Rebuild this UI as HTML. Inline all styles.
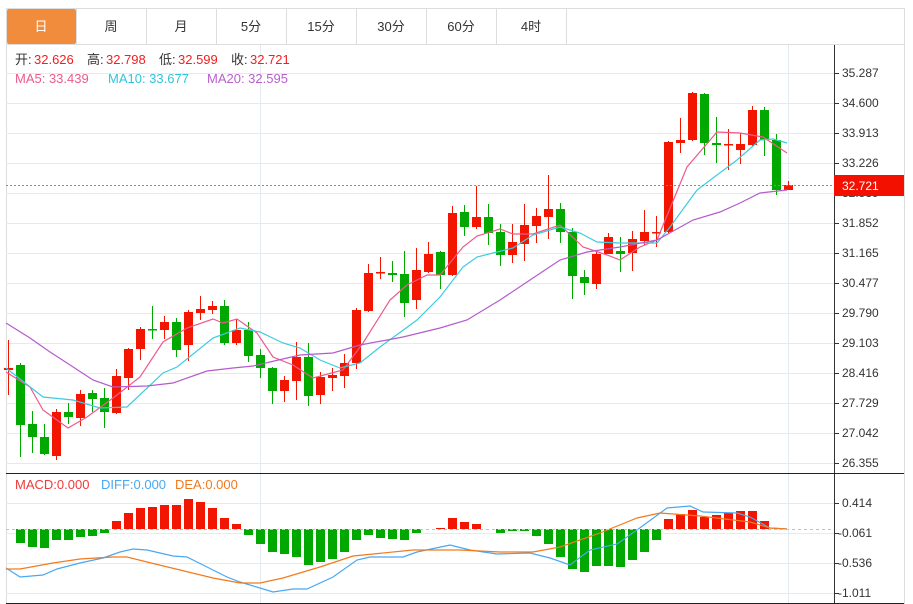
<!DOCTYPE html>
<html><head><meta charset="utf-8"><style>
body{margin:0;background:#fff;width:913px;height:604px;overflow:hidden;font-family:"Liberation Sans","Noto Sans CJK SC",sans-serif}
svg{position:absolute;left:0;top:0}
</style></head><body>
<svg id="s" width="913" height="604" xmlns="http://www.w3.org/2000/svg" font-family="Liberation Sans, Noto Sans CJK SC, sans-serif">
<rect x="6.5" y="8.5" width="898" height="595" fill="none" stroke="#ddd"/>
<line x1="6" y1="44.5" x2="904" y2="44.5" stroke="#ddd"/>
<rect x="7" y="9" width="69" height="35" fill="#f28c3d" rx="2"/>
<g stroke="#ddd"><line x1="76.5" y1="9" x2="76.5" y2="44"/><line x1="146.5" y1="9" x2="146.5" y2="44"/><line x1="216.5" y1="9" x2="216.5" y2="44"/><line x1="286.5" y1="9" x2="286.5" y2="44"/><line x1="356.5" y1="9" x2="356.5" y2="44"/><line x1="426.5" y1="9" x2="426.5" y2="44"/><line x1="496.5" y1="9" x2="496.5" y2="44"/><line x1="566.5" y1="9" x2="566.5" y2="44"/></g>
<g font-size="13" text-anchor="middle" fill="#333"><text x="41" y="31" fill="#fff">日</text><text x="111" y="31">周</text><text x="181" y="31">月</text><text x="251" y="31">5分</text><text x="321" y="31">15分</text><text x="391" y="31">30分</text><text x="461" y="31">60分</text><text x="531" y="31">4时</text></g>
<g id="grid" stroke="#e3ebf0"></g>
<line x1="260.5" y1="45" x2="260.5" y2="603" stroke="#e3ebf0"/>
<line x1="788.5" y1="45" x2="788.5" y2="603" stroke="#e3ebf0"/>
<line x1="834.5" y1="45" x2="834.5" y2="603" stroke="#333"/>
<line x1="6" y1="473.5" x2="904" y2="473.5" stroke="#222"/>
<line x1="6" y1="603.5" x2="904" y2="603.5" stroke="#222"/>
<g id="ticks" stroke="#333"></g>
<g font-size="12" fill="#333">
<text x="842" y="77">35.287</text><text x="842" y="107">34.600</text><text x="842" y="137">33.913</text><text x="842" y="167">33.226</text><text x="842" y="197">32.539</text><text x="842" y="227">31.852</text><text x="842" y="257">31.165</text><text x="842" y="287">30.477</text><text x="842" y="317">29.790</text><text x="842" y="347">29.103</text><text x="842" y="377">28.416</text><text x="842" y="407">27.729</text><text x="842" y="437">27.042</text><text x="842" y="467">26.355</text>
<text x="842" y="507">0.414</text><text x="838" y="537">-0.061</text><text x="838" y="567">-0.536</text><text x="838" y="597">-1.011</text>
</g>
<g id="c"></g>
<line x1="6" y1="185.5" x2="834" y2="185.5" stroke="#f06060" stroke-dasharray="2,2"/>
<line x1="6" y1="529.5" x2="834" y2="529.5" stroke="#9cd0e0" stroke-dasharray="3,3"/>
<rect x="834" y="175" width="70" height="21" fill="#f31000"/>
<text x="842" y="190" font-size="12" fill="#fff">32.721</text>
<g font-size="13">
<text x="15" y="64" fill="#333">开:</text><text x="34" y="64" fill="#f02020">32.626</text>
<text x="87" y="64" fill="#333">高:</text><text x="106" y="64" fill="#f02020">32.798</text>
<text x="159" y="64" fill="#333">低:</text><text x="178" y="64" fill="#f02020">32.599</text>
<text x="231" y="64" fill="#333">收:</text><text x="250" y="64" fill="#f02020">32.721</text>
<text x="15" y="83" fill="#ee5a8c">MA5: 33.439</text><text x="108" y="83" fill="#2ec4dc">MA10: 33.677</text><text x="207" y="83" fill="#b85fce">MA20: 32.595</text>
<text x="15" y="489" fill="#f03a3a">MACD:0.000</text><text x="101" y="489" fill="#4aa8f0">DIFF:0.000</text><text x="175" y="489" fill="#f07a20">DEA:0.000</text>
</g>
</svg>
<script>
var NS="http://www.w3.org/2000/svg",g=document.getElementById('c');
function el(t,a,p){var e=document.createElementNS(NS,t);for(var k in a)e.setAttribute(k,a[k]);(p||g).appendChild(e);return e;}
var ys=[73,103,133,163,193,223,253,283,313,343,373,403,433,463,503,533,563,593];
ys.forEach(function(y){el('line',{x1:6,x2:834,y1:y+.5,y2:y+.5},document.getElementById('grid'));el('line',{x1:834,x2:839,y1:y+.5,y2:y+.5},document.getElementById('ticks'));});
var C=[[368,370,340,395,1],[365,425,363,457,0],[424,437,411,453,0],[437,454,424,455,0],[412,456,409,460,1],[412,417,403,424,0],[394,418,390,426,1],[393,399,390,412,0],[398,412,388,428,0],[376,413,369,414,1],[349,378,348,390,1],[329,349,327,360,1],[329,330,306,339,0],[322,330,316,339,1],[322,350,318,357,0],[312,345,310,361,1],[309,313,296,320,1],[306,310,301,314,1],[306,343,300,345,0],[330,343,319,345,1],[330,356,322,362,0],[355,368,349,378,0],[368,391,367,404,0],[380,391,376,402,1],[357,381,342,400,1],[357,396,343,406,0],[377,395,372,404,1],[375,378,368,391,1],[363,376,354,388,1],[310,363,308,369,1],[273,311,264,312,1],[272,273,257,279,1],[273,275,261,282,0],[274,303,251,317,0],[270,300,248,309,1],[254,272,242,273,1],[252,275,251,289,0],[213,275,206,276,1],[212,227,205,236,0],[217,227,186,229,1],[217,233,204,245,0],[232,255,224,266,0],[242,255,224,263,1],[225,244,204,261,1],[216,226,208,243,1],[209,217,175,239,1],[209,232,203,243,0],[232,276,228,299,0],[277,283,270,295,0],[254,284,250,289,1],[237,254,233,254,1],[251,254,237,272,0],[239,253,231,271,1],[232,241,210,245,1],[232,233,216,247,1],[142,232,141,233,1],[140,143,118,153,1],[93,140,92,141,1],[94,143,93,155,0],[143,145,117,163,0],[144,145,129,170,1],[144,150,133,164,1],[110,145,106,147,1],[110,140,107,156,0],[140,190,134,195,0],[185,190,181,190,1]];
var R="#f21500",G="#00a800";
C.forEach(function(c,i){var x=8+i*12,col=c[4]?R:G;el('line',{x1:x+.5,x2:x+.5,y1:c[2],y2:c[3],stroke:col});el('rect',{x:x-4,y:c[0],width:9,height:Math.max(1.5,c[1]-c[0]),fill:col});});
function pl(p,col){el('polyline',{points:p,fill:'none',stroke:col,'stroke-width':1.2});}
pl("6,372 30,387 43,410 68,428 87,417 113,398 140,377 163,342 187,328 213,319 223,323 237,319 257,333 273,357 293,365 313,378 343,370 363,343 390,300 407,285 427,275 440,275 463,247 477,236 500,229 513,234 533,234 560,225 583,247 607,255 620,260 640,247 657,240 687,167 717,132 740,133 763,137 787,153","#ee5a8c");
pl("6,368 43,397 73,400 100,408 127,407 163,373 177,367 213,338 240,328 260,332 283,343 300,348 320,360 340,368 360,363 380,347 417,320 440,297 463,267 477,257 497,252 513,248 533,235 560,227 580,233 597,242 620,243 657,243 670,227 697,190 737,160 760,140 773,139 787,143","#3ccbe0");
pl("6,323 30,338 50,352 67,363 93,380 113,387 147,386 173,383 207,371 233,368 253,366 287,358 300,355 333,353 360,345 403,337 440,328 467,320 500,300 533,278 560,260 587,252 620,247 657,240 693,220 720,212 740,203 760,193 787,190","#b45ccc");
var M=[0,-14,-18,-19,-11,-11,-8,-7,-4,8,16,21,22,24,24,30,27,21,11,5,-6,-15,-23,-25,-28,-36,-33,-30,-23,-11,-6,-9,-10,-11,-4,0,1,11,7,5,0,-4,-2,-2,-7,-15,-28,-40,-43,-37,-37,-38,-31,-23,-11,10,15,19,12,14,16,18,18,8,0,0];
M.forEach(function(v,i){if(!v)return;var x=8+i*12;el('rect',{x:x-4,y:v>0?529-v:529,width:9,height:Math.abs(v),fill:v>0?R:G});});
pl("6,568 20,577 43,575 57,569 80,563 103,558 120,552 133,549 147,550 173,556 187,557 207,567 227,577 240,582 260,588 273,592 293,589 307,589 333,577 357,560 370,557 403,557 417,552 450,545 470,550 497,554 530,553 550,558 570,565 590,550 617,544 637,530 667,508 690,506 703,512 737,513 750,517 770,528 787,529","#4aa8f0");
pl("6,569 20,569 53,563 80,559 113,557 127,557 147,562 180,570 213,578 240,583 260,583 283,578 320,567 353,556 413,550 460,550 500,552 533,552 560,547 600,533 637,518 660,513 700,516 750,522 770,528 787,529","#f27a1e");
</script>
</body></html>
